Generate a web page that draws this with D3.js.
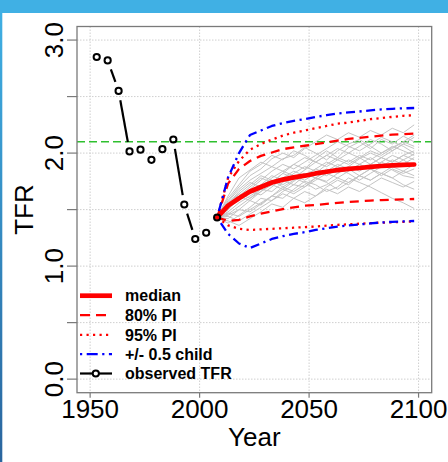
<!DOCTYPE html>
<html><head><meta charset="utf-8">
<script src="https://cdn.jsdelivr.net/npm/d3@7"></script>
<style>html,body{margin:0;padding:0;background:#fff;}svg{display:block;}</style>
</head><body>
<script>
// ---- data ----
const obsYears = [1953,1958,1963,1968,1973,1978,1983,1988,1993,1998,2003,2008];
const obsTFR   = [2.85,2.82,2.55,2.015,2.03,1.94,2.035,2.12,1.545,1.24,1.295,1.43];
const projYears = [2008,2013,2018,2023,2028,2033,2038,2043,2048,2053,2058,2063,2068,2073,2078,2083,2088,2093,2098];
const median  = [1.43,1.535,1.60,1.66,1.70,1.74,1.765,1.785,1.80,1.82,1.835,1.85,1.86,1.868,1.878,1.886,1.892,1.896,1.899];
const pi80Up  = [1.43,1.73,1.86,1.93,1.975,2.005,2.035,2.05,2.065,2.08,2.095,2.11,2.125,2.135,2.145,2.155,2.163,2.168,2.172];
const pi80Lo  = [1.43,1.40,1.41,1.44,1.465,1.485,1.505,1.52,1.535,1.54,1.55,1.56,1.567,1.573,1.58,1.584,1.588,1.591,1.594];
const pi95Up  = [1.43,1.78,1.93,2.03,2.08,2.12,2.155,2.18,2.20,2.22,2.24,2.26,2.27,2.285,2.30,2.31,2.32,2.33,2.335];
const pi95Lo  = [1.43,1.36,1.33,1.32,1.325,1.33,1.335,1.34,1.345,1.35,1.358,1.365,1.37,1.375,1.38,1.385,1.388,1.392,1.395];
const halfUp  = [1.43,1.785,2.00,2.16,2.20,2.24,2.265,2.285,2.30,2.32,2.335,2.35,2.36,2.368,2.378,2.386,2.392,2.396,2.399];
const halfLo  = [1.43,1.285,1.20,1.16,1.20,1.24,1.265,1.285,1.30,1.32,1.335,1.35,1.36,1.368,1.378,1.386,1.392,1.396,1.399];
const replacement = 2.1;
const trajectories = [
 [1.43,1.50,1.62,1.70,1.78,1.74,1.82,1.90,1.86,1.95,2.02,1.96,2.05,2.10,2.04,2.12,2.08,2.15,2.10],
 [1.43,1.38,1.45,1.52,1.60,1.58,1.66,1.72,1.70,1.78,1.75,1.82,1.88,1.84,1.90,1.96,1.92,1.98,2.02],
 [1.43,1.62,1.78,1.85,1.92,1.88,1.95,1.98,2.05,2.00,1.94,2.02,2.08,2.12,2.06,2.00,2.05,2.10,2.06],
 [1.43,1.52,1.58,1.66,1.72,1.80,1.76,1.72,1.80,1.86,1.92,1.88,1.84,1.90,1.96,1.90,1.85,1.80,1.78],
 [1.43,1.45,1.50,1.48,1.55,1.62,1.60,1.68,1.75,1.72,1.66,1.70,1.78,1.74,1.70,1.65,1.60,1.56,1.51],
 [1.43,1.58,1.70,1.80,1.86,1.95,2.00,1.96,2.04,2.10,2.16,2.12,2.18,2.14,2.20,2.16,2.22,2.18,2.25],
 [1.43,1.40,1.36,1.42,1.48,1.55,1.52,1.60,1.66,1.62,1.70,1.76,1.72,1.80,1.86,1.82,1.88,1.84,1.90],
 [1.43,1.55,1.66,1.74,1.70,1.78,1.84,1.80,1.76,1.82,1.90,1.96,1.92,1.98,1.94,2.00,2.06,2.02,1.98],
 [1.43,1.48,1.56,1.62,1.68,1.66,1.74,1.82,1.88,1.84,1.80,1.86,1.82,1.76,1.82,1.88,1.94,1.90,1.96],
 [1.43,1.60,1.72,1.84,1.90,1.98,1.94,2.02,1.98,1.92,1.98,2.04,2.00,2.06,2.12,2.08,2.02,2.08,2.14],
 [1.43,1.47,1.44,1.50,1.56,1.62,1.70,1.66,1.72,1.78,1.74,1.68,1.74,1.80,1.76,1.82,1.78,1.72,1.68],
 [1.43,1.53,1.64,1.60,1.68,1.76,1.72,1.78,1.85,1.92,1.88,1.94,2.00,1.96,1.90,1.96,2.02,2.08,2.04],
 [1.43,1.42,1.50,1.58,1.54,1.62,1.68,1.75,1.82,1.78,1.86,1.82,1.88,1.95,2.00,1.96,1.92,1.98,1.94],
 [1.43,1.56,1.64,1.72,1.80,1.76,1.70,1.76,1.82,1.78,1.84,1.90,1.86,1.80,1.76,1.82,1.78,1.84,1.80],
 [1.43,1.50,1.60,1.68,1.76,1.84,1.90,1.86,1.92,1.98,2.04,2.10,2.06,2.02,2.08,2.14,2.10,2.06,2.00],
 [1.43,1.44,1.40,1.46,1.52,1.58,1.64,1.60,1.56,1.62,1.68,1.64,1.70,1.66,1.72,1.78,1.74,1.70,1.75],
 [1.43,1.57,1.68,1.76,1.82,1.88,1.84,1.90,1.96,1.92,1.98,1.94,1.90,1.96,2.02,1.98,2.04,2.10,2.16],
 [1.43,1.51,1.59,1.66,1.63,1.70,1.78,1.84,1.80,1.86,1.82,1.88,1.94,1.90,1.86,1.92,1.88,1.94,1.99],
 [1.43,1.46,1.53,1.60,1.66,1.72,1.68,1.64,1.70,1.76,1.82,1.78,1.74,1.80,1.86,1.92,1.98,1.94,1.88],
 [1.43,1.54,1.62,1.58,1.66,1.74,1.82,1.78,1.74,1.68,1.72,1.78,1.84,1.90,1.86,1.80,1.86,1.82,1.86]
];
const xTicks = [1950,2000,2050,2100];
const yTicks = [0,0.5,1,1.5,2,2.5,3];
const yLabels = ["0.0","1.0","2.0","3.0"];
const yLabelVals = [0,1,2,3];
const legendLabels = ["median","80% PI","95% PI","+/- 0.5 child","observed TFR"];

// ---- drawing ----
const W = 448, H = 462;
const L = 77, R = 431.7, T = 26.5, B = 392.7;
const FONT = "'Liberation Sans', Arial, Helvetica, sans-serif";
const svg = d3.select("body").append("svg").attr("width", W).attr("height", H);

// frame decoration
const defs = svg.append("defs");
const grad = defs.append("linearGradient").attr("id","lg").attr("x1",0).attr("y1",0).attr("x2",0).attr("y2",1);
grad.append("stop").attr("offset","0%").attr("stop-color","#3fafe3");
grad.append("stop").attr("offset","100%").attr("stop-color","#2a659e");
svg.append("rect").attr("x",0).attr("y",0).attr("width",W).attr("height",13).attr("fill","#40b0e4");
svg.append("rect").attr("x",0).attr("y",13).attr("width",2.3).attr("height",H-13).attr("fill","url(#lg)");

const x = d3.scaleLinear().domain([1944, 2106]).range([L, R]);
const y = d3.scaleLinear().domain([-0.12, 3.12]).range([B, T]);

// grid
const grid = svg.append("g").attr("stroke","#cfcfcf").attr("stroke-width",1).attr("stroke-dasharray","1.5,1.5");
xTicks.forEach(t => grid.append("line").attr("x1",x(t)).attr("x2",x(t)).attr("y1",T).attr("y2",B));
yTicks.forEach(t => grid.append("line").attr("x1",L).attr("x2",R).attr("y1",y(t)).attr("y2",y(t)));

// replacement level
svg.append("line").attr("x1",L).attr("x2",R).attr("y1",y(replacement)).attr("y2",y(replacement))
  .attr("stroke","#2ec02e").attr("stroke-width",1.6).attr("stroke-dasharray","8,4");

const line = d3.line().x((d,i)=>x(projYears[i])).y(d=>y(d));

// trajectories
const tg = svg.append("g");
trajectories.forEach(tr => tg.append("path").attr("d", line(tr)).attr("fill","none")
  .attr("stroke","#c4c4c4").attr("stroke-width",1));

// PI lines
function drawLine(data, color, width, dash){
  const p = svg.append("path").attr("d", line(data)).attr("fill","none")
    .attr("stroke",color).attr("stroke-width",width).attr("stroke-linejoin","round");
  if (dash) p.attr("stroke-dasharray", dash);
  return p;
}
drawLine(pi80Up, "#ff0000", 2.3, "9,6");
drawLine(pi80Lo, "#ff0000", 2.3, "9,6");
drawLine(pi95Up, "#ff0000", 2.3, "2.2,4.3");
drawLine(pi95Lo, "#ff0000", 2.3, "2.2,4.3");
drawLine(halfUp, "#0000ff", 2.3, "2.2,4.5,9,4.5");
drawLine(halfLo, "#0000ff", 2.3, "2.2,4.5,9,4.5");
drawLine(median, "#ff0000", 4.7, null).attr("stroke-linecap","round");

// observed: type "b" (lines with gaps around points)
const og = svg.append("g");
const gap = 9.5;
for (let i = 0; i < obsYears.length - 1; i++) {
  const x1 = x(obsYears[i]), y1 = y(obsTFR[i]), x2 = x(obsYears[i+1]), y2 = y(obsTFR[i+1]);
  const len = Math.hypot(x2-x1, y2-y1);
  if (len > 2*gap) {
    const ux = (x2-x1)/len, uy = (y2-y1)/len;
    og.append("line").attr("x1", x1+ux*gap).attr("y1", y1+uy*gap)
      .attr("x2", x2-ux*gap).attr("y2", y2-uy*gap)
      .attr("stroke","#000").attr("stroke-width",2.2);
  }
}
obsYears.forEach((yr,i) => og.append("circle").attr("cx",x(yr)).attr("cy",y(obsTFR[i])).attr("r",3.1)
  .attr("fill","none").attr("stroke","#000").attr("stroke-width",2));

// box
svg.append("rect").attr("x",L).attr("y",T).attr("width",R-L).attr("height",B-T)
  .attr("fill","none").attr("stroke","#7a7a7a").attr("stroke-width",1.3);

// y axis
const ya = svg.append("g");
yTicks.forEach(t => ya.append("line").attr("x1",L-10).attr("x2",L).attr("y1",y(t)).attr("y2",y(t))
  .attr("stroke","#7a7a7a").attr("stroke-width",1.2));
yLabelVals.forEach((v,i) => ya.append("text").attr("transform",`translate(62.5,${y(v)}) rotate(-90)`)
  .attr("text-anchor","middle").attr("font-family",FONT).attr("font-size",26).attr("fill","#000").text(yLabels[i]));

// x axis
const xa = svg.append("g");
xTicks.forEach(t => {
  xa.append("line").attr("x1",x(t)).attr("x2",x(t)).attr("y1",B).attr("y2",B+5)
    .attr("stroke","#7a7a7a").attr("stroke-width",1.2);
  xa.append("text").attr("x",x(t)).attr("y",418).attr("text-anchor","middle")
    .attr("font-family",FONT).attr("font-size",26).attr("fill","#000").text(String(t));
});

// axis titles
svg.append("text").attr("x",(L+R)/2).attr("y",446).attr("text-anchor","middle")
  .attr("font-family",FONT).attr("font-size",26).attr("fill","#000").text("Year");
svg.append("text").attr("transform",`translate(33,${(T+B)/2}) rotate(-90)`).attr("text-anchor","middle")
  .attr("font-family",FONT).attr("font-size",26).attr("fill","#000").text("TFR");

// legend
const lg = svg.append("g");
const rowY = [295.7, 315.2, 334.8, 354.2, 373.5];
const lx1 = 80, lx2 = 112;
const styles = [
  {c:"#ff0000", w:4.7, d:null},
  {c:"#ff0000", w:2.3, d:"10,6"},
  {c:"#ff0000", w:2.3, d:"2.2,4.3"},
  {c:"#0000ff", w:2.3, d:"2.2,4.5,11,4.5"},
  {c:"#000000", w:2.2, d:null}
];
legendLabels.forEach((lab,i) => {
  const l = lg.append("line").attr("x1",lx1).attr("x2",lx2).attr("y1",rowY[i]).attr("y2",rowY[i])
    .attr("stroke",styles[i].c).attr("stroke-width",styles[i].w);
  if (styles[i].d) l.attr("stroke-dasharray",styles[i].d);
  lg.append("text").attr("x",125).attr("y",rowY[i]).attr("dy","0.36em")
    .attr("font-family",FONT).attr("font-weight","bold").attr("font-size",16).attr("fill","#000").text(lab);
});
lg.append("circle").attr("cx",95.8).attr("cy",rowY[4]).attr("r",3.1).attr("fill","#fff")
  .attr("stroke","#000").attr("stroke-width",2);
</script>
</body></html>
